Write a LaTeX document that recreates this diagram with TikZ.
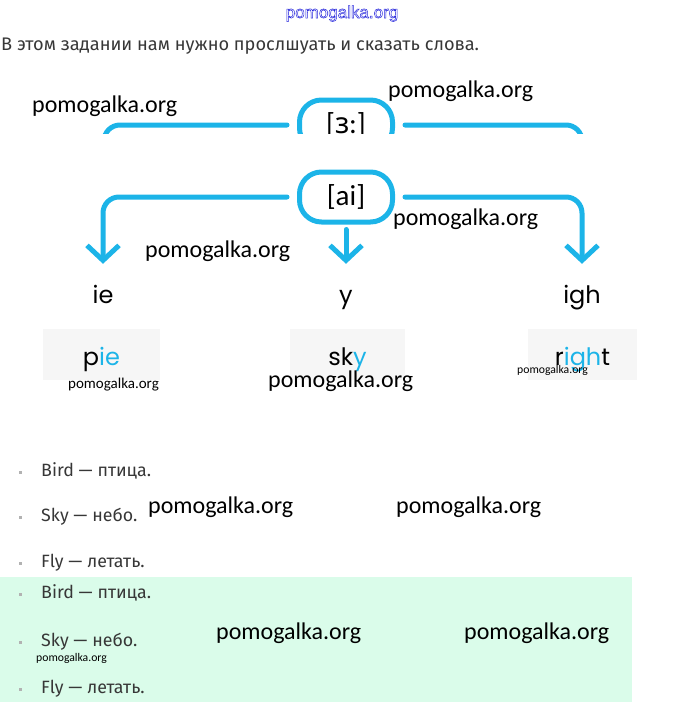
\documentclass[tikz,border=0pt]{standalone}
\usepackage{fontspec}
\usepackage{tikz}
\usetikzlibrary{arrows.meta, positioning}
\setmainfont{Fira Sans}
\newfontfamily\wmfont{Carlito}
\newfontfamily\wordfont{Poppins}
\newfontfamily\ipafont{Noto Sans}
\newfontfamily\sitefont{Liberation Sans}
\definecolor{skyline}{RGB}{28, 180, 232}
\definecolor{textgray}{RGB}{55, 55, 55}
\definecolor{mint}{RGB}{218, 252, 234}
\definecolor{cardgray}{RGB}{246, 246, 246}
\definecolor{siteblue}{RGB}{40, 40, 220}

\begin{document}
\begin{tikzpicture}[x=1pt, y=-1pt,
    pill/.style={draw=skyline, line width=5pt, rounded corners=22pt, minimum width=93pt, minimum height=50pt, inner sep=0pt, font=\wmfont\fontsize{29}{29}\selectfont},
    link/.style={draw=skyline, line width=5pt, line cap=round, rounded corners=16pt},
    arr/.style={link, -{Straight Barb[length=15pt, width=32pt]}},
    sound/.style={anchor=base, inner sep=0pt, text height=18pt, text depth=6pt, font=\wordfont\fontsize{24}{24}\selectfont},
    card/.style={fill=cardgray, inner sep=0pt, minimum height=51pt, text height=24pt, text depth=3pt, font=\wordfont\fontsize{24}{24}\selectfont},
    wm/.style={anchor=base west, inner sep=0pt, font=\wmfont\fontsize{24}{24}\selectfont},
    wmsmall/.style={wm, font=\wmfont\fontsize{15}{15}\selectfont},
    wmtiny/.style={wm, font=\wmfont\fontsize{11.7}{11.7}\selectfont},
    item/.style={anchor=base west, inner sep=0pt, text=textgray, font=\fontsize{17.8}{17.8}\selectfont},
    dot/.style={fill=gray!60, inner sep=0pt, minimum size=3pt}
]
    \useasboundingbox (0,0) rectangle (680,702);

    % site name on top
    \node[anchor=base, inner sep=0pt, text=siteblue, font=\sitefont\fontsize{17}{17}\selectfont] (site) at (342,18) {\special{pdf:code 1 Tr 0.5 w}pomogalka.org\special{pdf:code 0 Tr}};

    % task sentence
    \node[anchor=base west, inner sep=0pt, text=textgray, font=\fontsize{18.2}{18.2}\selectfont] (title) at (1,50) {В этом задании нам нужно прослшуать и сказать слова.};

    % [3:] box, cut at the bottom
    \coordinate (erL) at (104,170);
    \coordinate (erR) at (582,170);
    \begin{scope}
        \clip (0,60) rectangle (680,133);
        \node[pill] (er) at (346,125) {[{\ipafont ɜ}:]};
        \draw[link, shorten <=10pt] (er.west) -| (erL); % line to the left
        \draw[link, shorten <=10pt] (er.east) -| (erR); % line to the right
    \end{scope}

    % [ai] box
    \node[pill] (ai) at (346,197) {[ai]};

    % letter groups under the arrows
    \node[sound] (ieLbl) at (103,303) {ie};
    \node[sound] (yLbl) at (346,303) {y};
    \node[sound] (ighLbl) at (582,303) {igh};

    % arrows from [ai]
    \draw[arr, shorten <=10pt, shorten >=21pt] (ai.west) -| (ieLbl.north); % left arrow
    \draw[arr, shorten <=5pt, shorten >=21pt] (ai.south) -- (yLbl.north); % middle arrow
    \draw[arr, shorten <=10pt, shorten >=21pt] (ai.east) -| (ighLbl.north); % right arrow

    % word cards
    \node[card, minimum width=117pt] (pie) at (101.5,354.5) {p\textcolor{skyline}{ie}};
    \node[card, minimum width=115pt] (sky) at (347.5,354.5) {sk\textcolor{skyline}{y}};
    \node[card, minimum width=109pt] (rightCard) at (582.5,354.5) {r\textcolor{skyline}{igh}t};

    % green part of the list
    \fill[mint] (0,577) rectangle (632,702);

    % list items
    \node[dot] (b1) at (20,472) {};
    \node[item] (bird1) at (41,476) {Bird — птица.};
    \node[dot] (b2) at (20,517) {};
    \node[item] (sky1) at (41,521) {Sky — небо.};
    \node[dot] (b3) at (20,563) {};
    \node[item] (fly1) at (41,567) {Fly — летать.};
    \node[dot] (b4) at (20,594) {};
    \node[item] (bird2) at (41,598) {Bird — птица.};
    \node[dot] (b5) at (20,642) {};
    \node[item] (sky2) at (41,646) {Sky — небо.};
    \node[dot] (b6) at (20,689) {};
    \node[item] (fly2) at (41,693) {Fly — летать.};

    % watermarks
    \node[wm] (wm1) at (32,112) {pomogalka.org};
    \node[wm] (wm2) at (388,97) {pomogalka.org};
    \node[wm] (wm3) at (393,225) {pomogalka.org};
    \node[wm] (wm4) at (145,257) {pomogalka.org};
    \node[wmsmall] (wm5) at (68,388) {pomogalka.org};
    \node[wm] (wm6) at (268,387) {pomogalka.org};
    \node[wmtiny] (wm7) at (517,373) {pomogalka.org};
    \node[wm] (wm8) at (148,513) {pomogalka.org};
    \node[wm] (wm9) at (396,513) {pomogalka.org};
    \node[wm] (wm10) at (216,639) {pomogalka.org};
    \node[wm] (wm11) at (464,639) {pomogalka.org};
    \node[wmtiny] (wm12) at (36,661) {pomogalka.org};
\end{tikzpicture}
\end{document}
